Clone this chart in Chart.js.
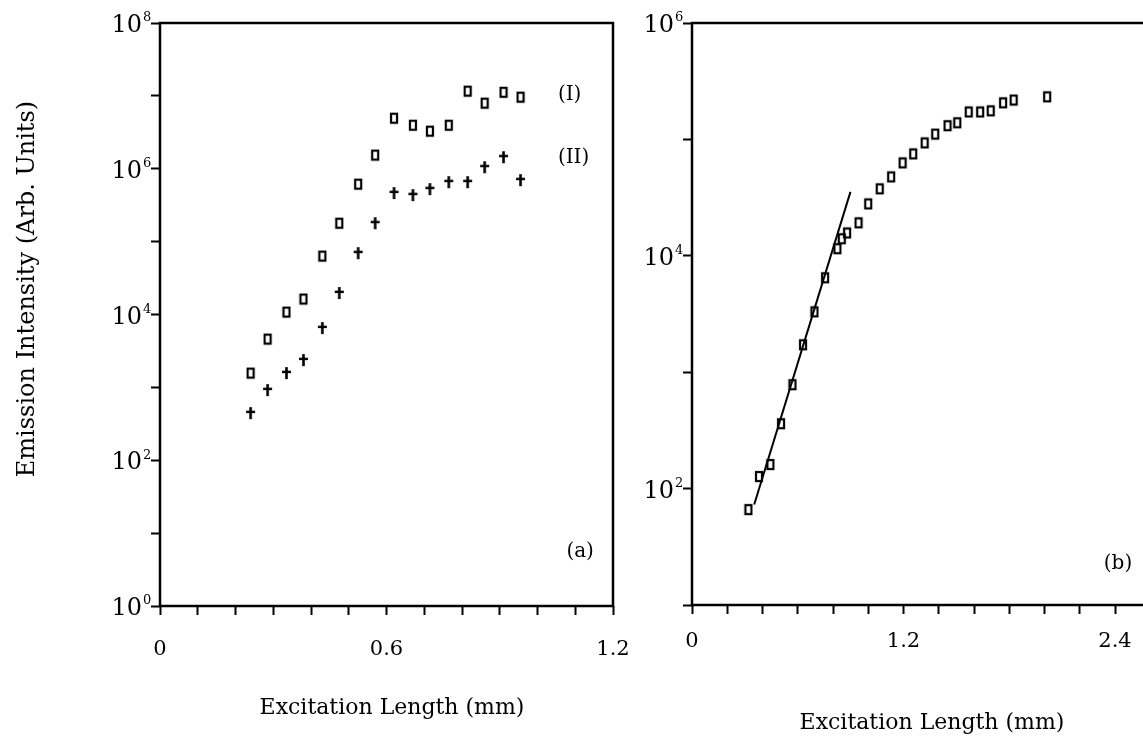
<!DOCTYPE html>
<html>
<head>
<meta charset="utf-8">
<script src="https://cdn.jsdelivr.net/npm/chart.js@4.4.1/dist/chart.umd.min.js"></script>
<style>
  html, body { margin: 0; padding: 0; background: #fff; overflow: hidden; width: 1143px; height: 744px; }
  #wrapA { position: absolute; left: 0; top: 0; width: 660px; height: 744px; }
  #wrapB { position: absolute; left: 630px; top: 0; width: 600px; height: 744px; }
</style>
</head>
<body>
<div id="wrapA"><canvas id="chartA" width="660" height="744"></canvas></div>
<div id="wrapB"><canvas id="chartB" width="600" height="744"></canvas></div>
<script>
// panel (a): excitation length (mm) vs emission intensity
const xA = [0.24, 0.285, 0.335, 0.38, 0.43, 0.475, 0.525, 0.57, 0.62, 0.67, 0.715, 0.765, 0.815, 0.86, 0.91, 0.955];
const seriesI = [1570, 4600, 10800, 16300, 63300, 179000, 615000, 1540000, 4940000, 3960000, 3280000, 3960000, 11600000, 7940000, 11200000, 9600000];
const seriesII = [444, 918, 1570, 2370, 6510, 19700, 69500, 179000, 463000, 434000, 525000, 655000, 655000, 1050000, 1440000, 698000];

// panel (b)
const xB = [0.32, 0.38, 0.445, 0.505, 0.57, 0.63, 0.695, 0.755, 0.825, 0.85, 0.88, 0.945, 1.0, 1.065, 1.13, 1.195, 1.255, 1.32, 1.38, 1.45, 1.505, 1.57, 1.635, 1.695, 1.765, 1.825, 2.015];
const seriesB = [66, 127, 161, 361, 781, 1720, 3300, 6470, 11500, 14000, 15700, 19200, 27900, 37600, 47600, 62800, 75100, 93300, 111000, 131000, 139000, 172000, 172000, 176000, 206000, 218000, 232000];
const fitX = [0.353, 0.899];
const fitY = [73, 35400];

// ticks
const xTicksA = [0, 0.1, 0.2, 0.3, 0.4, 0.5, 0.6, 0.7, 0.8, 0.9, 1.0, 1.1, 1.2];
const xLabelsA = [0, 0.6, 1.2];
const xTicksB = [0, 0.2, 0.4, 0.6, 0.8, 1.0, 1.2, 1.4, 1.6, 1.8, 2.0, 2.2, 2.4, 2.6, 2.8];
const xLabelsB = [0, 1.2, 2.4];
const yTicksA = [1, 1e1, 1e2, 1e3, 1e4, 1e5, 1e6, 1e7, 1e8];
const yLabelsA = [1, 1e2, 1e4, 1e6, 1e8];
const yTicksB = [1e1, 1e2, 1e3, 1e4, 1e5, 1e6];
const yLabelsB = [1e2, 1e4, 1e6];

const notesA = [
  { text: '(I)', x: 1.054, y: 1.05e7, align: 'left' },
  { text: '(II)', x: 1.054, y: 1.4e6, align: 'left' },
  { text: '(a)', x: 1.113, y: 5.5, align: 'center' }
];
const notesB = [
  { text: '(b)', x: 2.417, y: 22.7, align: 'center' }
];

const SERIF = '"DejaVu Serif", serif';

function makeSquare() {
  const c = document.createElement('canvas');
  c.width = 10; c.height = 13;
  const g = c.getContext('2d');
  g.strokeStyle = '#000';
  g.lineWidth = 2.2;
  g.strokeRect(2, 2, 6, 9);
  return c;
}

function makeCross() {
  const c = document.createElement('canvas');
  c.width = 11; c.height = 14;
  const g = c.getContext('2d');
  g.fillStyle = '#000';
  g.fillRect(4.2, 1, 2.6, 12);
  g.fillRect(1, 4.6, 9, 2.4);
  return c;
}

const squareMark = makeSquare();
const crossMark = makeCross();

const pts = (xs, ys) => xs.map((x, i) => ({ x: x, y: ys[i] }));
const near = (list, v) => list.some(l => Math.abs(l - v) < 1e-9);

// frame, power-of-ten labels, notes and axis titles
const decor = {
  id: 'decor',
  afterDraw(chart, args, opts) {
    const ctx = chart.ctx, area = chart.chartArea;
    const xs = chart.scales.x, ys = chart.scales.y;
    ctx.save();
    ctx.strokeStyle = '#000';
    ctx.lineWidth = 2.5;
    ctx.strokeRect(area.left, area.top, area.right - area.left, area.bottom - area.top);

    ctx.fillStyle = '#000';
    ctx.textBaseline = 'middle';
    opts.powers.forEach(v => {
      const py = ys.getPixelForValue(v);
      ctx.font = '24px ' + SERIF;
      ctx.textAlign = 'right';
      ctx.fillText('10', area.left - 18, py + 3);
      ctx.font = '13px ' + SERIF;
      ctx.textAlign = 'left';
      ctx.fillText(String(Math.round(Math.log10(v))), area.left - 17, py - 5);
    });

    ctx.font = '20px ' + SERIF;
    opts.notes.forEach(n => {
      ctx.textAlign = n.align;
      ctx.fillText(n.text, xs.getPixelForValue(n.x), ys.getPixelForValue(n.y));
    });

    ctx.font = '22px ' + SERIF;
    ctx.textAlign = 'center';
    ctx.fillText('Excitation Length (mm)', opts.xTitle[0], opts.xTitle[1]);
    if (opts.yTitle) {
      ctx.font = '24px ' + SERIF;
      ctx.translate(opts.yTitle[0], opts.yTitle[1]);
      ctx.rotate(-Math.PI / 2);
      ctx.fillText('Emission Intensity (Arb. Units)', 0, 0);
    }
    ctx.restore();
  }
};

function makeChart(id, cfg) {
  return new Chart(document.getElementById(id), {
    type: 'scatter',
    data: { datasets: cfg.datasets },
    options: {
      responsive: false,
      animation: false,
      devicePixelRatio: 1,
      layout: { padding: cfg.padding },
      plugins: {
        legend: { display: false },
        tooltip: { enabled: false },
        decor: { powers: cfg.powers, notes: cfg.notes, xTitle: cfg.xTitle, yTitle: cfg.yTitle }
      },
      scales: {
        x: {
          type: 'linear',
          min: cfg.xMin, max: cfg.xMax,
          afterBuildTicks: s => { s.ticks = cfg.xTicks.map(v => ({ value: v })); },
          afterFit: s => { s.height = cfg.xHeight; },
          border: { display: false },
          grid: { drawOnChartArea: false, tickLength: 9, tickWidth: 2, tickColor: '#000' },
          ticks: {
            autoSkip: false, maxRotation: 0, padding: cfg.xPad,
            color: '#000', font: { family: SERIF, size: 21 },
            callback: v => near(cfg.xLabels, v) ? String(v) : ''
          }
        },
        y: {
          type: 'logarithmic',
          min: cfg.yMin, max: cfg.yMax,
          afterBuildTicks: s => { s.ticks = cfg.yTicks.map(v => ({ value: v })); },
          afterFit: s => { s.width = cfg.yWidth; },
          border: { display: false },
          grid: { drawOnChartArea: false, tickLength: 9, tickWidth: 2, tickColor: '#000' },
          ticks: { autoSkip: false, callback: () => '' }
        }
      }
    },
    plugins: [decor]
  });
}

makeChart('chartA', {
  datasets: [
    { label: '(I)', data: pts(xA, seriesI), pointStyle: squareMark, pointRadius: 6 },
    { label: '(II)', data: pts(xA, seriesII), pointStyle: crossMark, pointRadius: 6 }
  ],
  padding: { left: 0, top: 23, right: 47, bottom: 0 },
  xMin: 0, xMax: 1.2, xTicks: xTicksA, xLabels: xLabelsA, xHeight: 138, xPad: 22,
  yMin: 1, yMax: 1e8, yTicks: yTicksA, yWidth: 160,
  powers: yLabelsA, notes: notesA,
  xTitle: [392, 708], yTitle: [28, 289]
});

makeChart('chartB', {
  datasets: [
    { label: 'fit', type: 'line', data: pts(fitX, fitY), showLine: true, borderColor: '#000', borderWidth: 2, pointRadius: 0 },
    { label: 'data', data: pts(xB, seriesB), pointStyle: squareMark, pointRadius: 6 }
  ],
  padding: { left: 0, top: 23, right: 44.5, bottom: 0 },
  xMin: 0, xMax: 2.8, xTicks: xTicksB, xLabels: xLabelsB, xHeight: 139, xPad: 15,
  yMin: 10, yMax: 1e6, yTicks: yTicksB, yWidth: 62,
  powers: yLabelsB, notes: notesB,
  xTitle: [302, 723], yTitle: null
});
</script>
</body>
</html>
